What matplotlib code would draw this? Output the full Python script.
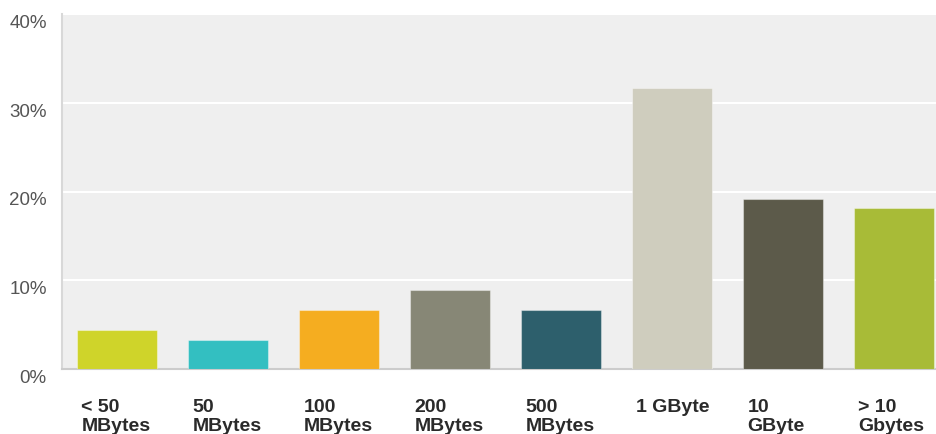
import matplotlib.pyplot as plt
import numpy as np

# Данные
categories = ['< 50\nMBytes', '50\nMBytes', '100\nMBytes', '200\nMBytes',
              '500\nMBytes', '1 GByte', '10\nGByte', '> 10\nGbytes']
values = [4.4, 3.3, 6.7, 8.9, 6.6, 31.7, 19.2, 18.1]
colors = ['#cfd42a', '#33bfc1', '#f5ad20', '#878776', '#2d5f6c',
          '#cfcdbe', '#5c5a4a', '#a8bb37']
yticks = [0, 10, 20, 30, 40]

W, H = 937, 435
fig = plt.figure(figsize=(W / 100, H / 100), dpi=100)
# ось шире картинки: последняя категория обрезана справа, как в оригинале
ax = fig.add_axes([62 / W, (H - 370) / H, 888 / W, 355 / H])
ax.set_facecolor('#efefef')

x = np.arange(len(categories))
ax.bar(x, values, width=80 / 111, color=colors, edgecolor='#ffffff60',
       linewidth=0.8, zorder=3)

ax.set_xlim(-0.5, len(categories) - 0.5)
ax.set_ylim(0, 40)
ax.set_yticks(yticks)
ax.set_yticklabels([f'{t}%' for t in yticks], fontsize=13.5, color='#555555',
                   family='Liberation Sans', va='top')
ax.tick_params(axis='y', length=0, pad=11)
ax.yaxis.grid(True, color='white', linewidth=1.5, zorder=1)
ax.set_xticks([])

for s in ['top', 'right']:
    ax.spines[s].set_visible(False)
ax.spines['left'].set_color('#d8d8d8')
ax.spines['left'].set_linewidth(1.5)
ax.spines['bottom'].set_color('#cccccc')
ax.spines['bottom'].set_linewidth(1.5)

# подписи категорий слева от левого края столбика
for xi, lab in zip(x, categories):
    ax.text(xi - 36 / 111, -3.3, lab, ha='left', va='top', fontsize=14,
            fontweight='bold', color='#2a2a2a', family='Liberation Sans',
            linespacing=1.15, clip_on=False)

fig.savefig('out.png', dpi=100, facecolor='white')
